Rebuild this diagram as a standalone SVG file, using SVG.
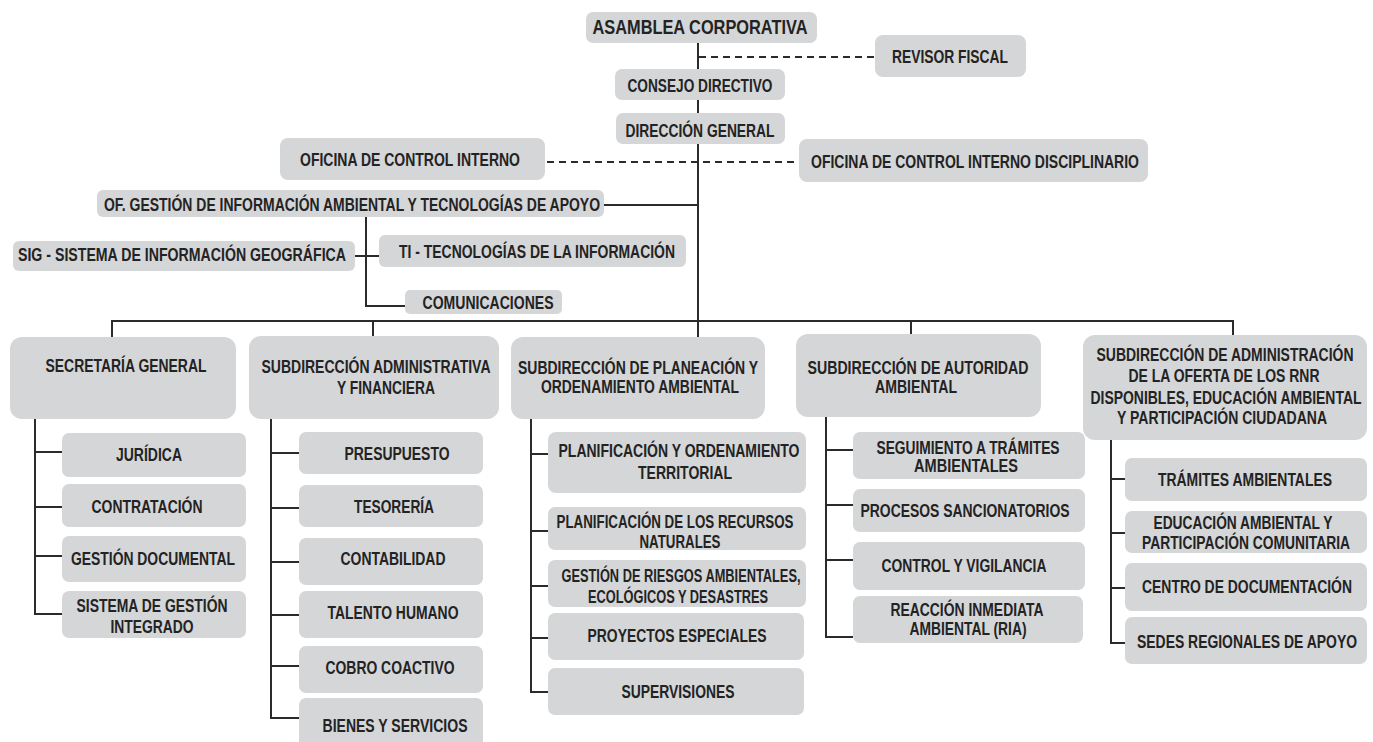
<svg xmlns="http://www.w3.org/2000/svg" width="1373" height="742" viewBox="0 0 1373 742">
<style>
.bx{fill:#d5d6d8;}
.t{font-family:"Liberation Sans Narrow","Liberation Sans",Arial,sans-serif;font-weight:bold;font-size:18px;fill:#232323;text-anchor:middle;}
.big{font-size:19.5px;}
.ln{stroke:#2b2b2b;stroke-width:2;fill:none;}
.dash{stroke:#2b2b2b;stroke-width:1.8;fill:none;stroke-dasharray:7 5;}
</style>
<rect width="1373" height="742" fill="#ffffff"/>
<g id="connectors">
<path class="ln" d="M698 43 V337"/>
<path class="dash" d="M699 57 H875"/>
<path class="dash" d="M547 162 H799"/>
<path class="ln" d="M604 205 H698"/>
<path class="ln" d="M366 217 V306 H405"/>
<path class="ln" d="M355 256 H379"/>
<path class="ln" d="M112 321 H1233"/>
<path class="ln" d="M112 320 V337"/>
<path class="ln" d="M373 320 V336"/>
<path class="ln" d="M911 320 V334"/>
<path class="ln" d="M1233 320 V335"/>
<path class="ln" d="M35 419 V614 H62 M35 452 H62 M35 507 H62 M35 556 H62"/>
<path class="ln" d="M271 419 V718 H299 M271 453 H299 M271 508 H299 M271 562 H299 M271 615 H299 M271 666 H299"/>
<path class="ln" d="M531 419 V692 H548 M531 454 H548 M531 531 H548 M531 586 H548 M531 638 H548"/>
<path class="ln" d="M826 417 V637 H853 M826 450 H853 M826 505 H853 M826 560 H853"/>
<path class="ln" d="M1111 440 V643 H1125 M1111 479 H1125 M1111 533 H1125 M1111 588 H1125"/>
</g>
<g id="asamblea"><rect class="bx" x="586" y="12" width="231" height="31" rx="7"/><text class="t big" x="700" y="34" textLength="215" lengthAdjust="spacingAndGlyphs">ASAMBLEA CORPORATIVA</text></g>
<g id="revisor"><rect class="bx" x="875" y="35" width="151" height="42" rx="8"/><text class="t" x="950" y="63" textLength="116" lengthAdjust="spacingAndGlyphs">REVISOR FISCAL</text></g>
<g id="consejo"><rect class="bx" x="615" y="69" width="170" height="31" rx="7"/><text class="t" x="700" y="92" textLength="145" lengthAdjust="spacingAndGlyphs">CONSEJO DIRECTIVO</text></g>
<g id="direccion"><rect class="bx" x="616" y="113" width="169" height="31" rx="7"/><text class="t" x="700" y="137" textLength="149" lengthAdjust="spacingAndGlyphs">DIRECCIÓN GENERAL</text></g>
<g id="control-interno"><rect class="bx" x="280" y="138" width="265" height="42" rx="8"/><text class="t" x="410" y="166" textLength="220" lengthAdjust="spacingAndGlyphs">OFICINA DE CONTROL INTERNO</text></g>
<g id="control-disciplinario"><rect class="bx" x="799" y="139" width="349" height="43" rx="8"/><text class="t" x="975" y="168" textLength="328" lengthAdjust="spacingAndGlyphs">OFICINA DE CONTROL INTERNO DISCIPLINARIO</text></g>
<g id="of-gestion"><rect class="bx" x="97" y="190" width="507" height="27" rx="6"/><text class="t" x="352" y="211" textLength="496" lengthAdjust="spacingAndGlyphs">OF. GESTIÓN DE INFORMACIÓN AMBIENTAL Y TECNOLOGÍAS DE APOYO</text></g>
<g id="sig"><rect class="bx" x="13" y="241" width="342" height="30" rx="6"/><text class="t" x="182" y="261" textLength="328" lengthAdjust="spacingAndGlyphs">SIG - SISTEMA DE INFORMACIÓN  GEOGRÁFICA</text></g>
<g id="ti"><rect class="bx" x="379" y="235" width="307" height="32" rx="6"/><text class="t" x="537" y="258" textLength="276" lengthAdjust="spacingAndGlyphs">TI - TECNOLOGÍAS DE LA INFORMACIÓN</text></g>
<g id="comunicaciones"><rect class="bx" x="405" y="290" width="157" height="24" rx="5"/><text class="t" x="488" y="309" textLength="131" lengthAdjust="spacingAndGlyphs">COMUNICACIONES</text></g>

<g id="secretaria"><rect class="bx" x="10" y="337" width="226" height="82" rx="12"/><text class="t" x="126" y="372" textLength="161" lengthAdjust="spacingAndGlyphs">SECRETARÍA GENERAL</text></g>
<g id="sub-admin"><rect class="bx" x="249" y="336" width="250" height="83" rx="12"/><text class="t" x="376" y="373" textLength="229" lengthAdjust="spacingAndGlyphs">SUBDIRECCIÓN ADMINISTRATIVA</text><text class="t" x="386" y="394" textLength="98" lengthAdjust="spacingAndGlyphs">Y FINANCIERA</text></g>
<g id="sub-planeacion"><rect class="bx" x="511" y="337" width="254" height="82" rx="12"/><text class="t" x="638" y="374" textLength="240" lengthAdjust="spacingAndGlyphs">SUBDIRECCIÓN DE PLANEACIÓN Y</text><text class="t" x="640" y="393" textLength="198" lengthAdjust="spacingAndGlyphs">ORDENAMIENTO AMBIENTAL</text></g>
<g id="sub-autoridad"><rect class="bx" x="796" y="334" width="245" height="83" rx="12"/><text class="t" x="918" y="374" textLength="221" lengthAdjust="spacingAndGlyphs">SUBDIRECCIÓN DE AUTORIDAD</text><text class="t" x="916" y="393" textLength="82" lengthAdjust="spacingAndGlyphs">AMBIENTAL</text></g>
<g id="sub-rnr"><rect class="bx" x="1083" y="335" width="284" height="105" rx="12"/><text class="t" x="1225" y="361" textLength="257" lengthAdjust="spacingAndGlyphs">SUBDIRECCIÓN DE ADMINISTRACIÓN</text><text class="t" x="1224" y="382" textLength="191" lengthAdjust="spacingAndGlyphs">DE LA OFERTA DE LOS RNR</text><text class="t" x="1226" y="404" textLength="271" lengthAdjust="spacingAndGlyphs">DISPONIBLES, EDUCACIÓN AMBIENTAL</text><text class="t" x="1222" y="424" textLength="210" lengthAdjust="spacingAndGlyphs">Y PARTICIPACIÓN CIUDADANA</text></g>

<g id="juridica"><rect class="bx" x="62" y="433" width="184" height="44" rx="7"/><text class="t" x="149" y="461" textLength="66" lengthAdjust="spacingAndGlyphs">JURÍDICA</text></g>
<g id="contratacion"><rect class="bx" x="62" y="484" width="184" height="43" rx="7"/><text class="t" x="147" y="513" textLength="111" lengthAdjust="spacingAndGlyphs">CONTRATACIÓN</text></g>
<g id="gestion-documental"><rect class="bx" x="62" y="536" width="184" height="46" rx="7"/><text class="t" x="153" y="565" textLength="164" lengthAdjust="spacingAndGlyphs">GESTIÓN DOCUMENTAL</text></g>
<g id="sgi"><rect class="bx" x="62" y="591" width="184" height="47" rx="7"/><text class="t" x="152" y="612" textLength="151" lengthAdjust="spacingAndGlyphs">SISTEMA DE GESTIÓN</text><text class="t" x="152" y="633" textLength="83" lengthAdjust="spacingAndGlyphs">INTEGRADO</text></g>

<g id="presupuesto"><rect class="bx" x="299" y="432" width="184" height="42" rx="7"/><text class="t" x="397" y="460" textLength="105" lengthAdjust="spacingAndGlyphs">PRESUPUESTO</text></g>
<g id="tesoreria"><rect class="bx" x="299" y="485" width="184" height="42" rx="7"/><text class="t" x="394" y="513" textLength="80" lengthAdjust="spacingAndGlyphs">TESORERÍA</text></g>
<g id="contabilidad"><rect class="bx" x="299" y="538" width="184" height="47" rx="7"/><text class="t" x="393" y="565" textLength="105" lengthAdjust="spacingAndGlyphs">CONTABILIDAD</text></g>
<g id="talento"><rect class="bx" x="299" y="591" width="184" height="47" rx="7"/><text class="t" x="393" y="619" textLength="131" lengthAdjust="spacingAndGlyphs">TALENTO HUMANO</text></g>
<g id="cobro"><rect class="bx" x="299" y="646" width="184" height="47" rx="7"/><text class="t" x="390" y="674" textLength="129" lengthAdjust="spacingAndGlyphs">COBRO COACTIVO</text></g>
<g id="bienes"><rect class="bx" x="299" y="698" width="184" height="50" rx="7"/><text class="t" x="395" y="732" textLength="145" lengthAdjust="spacingAndGlyphs">BIENES Y SERVICIOS</text></g>

<g id="plan-territorial"><rect class="bx" x="548" y="432" width="258" height="61" rx="8"/><text class="t" x="679" y="457" textLength="241" lengthAdjust="spacingAndGlyphs">PLANIFICACIÓN Y ORDENAMIENTO</text><text class="t" x="685" y="479" textLength="94" lengthAdjust="spacingAndGlyphs">TERRITORIAL</text></g>
<g id="plan-recursos"><rect class="bx" x="548" y="507" width="258" height="43" rx="7"/><text class="t" x="675" y="528" textLength="237" lengthAdjust="spacingAndGlyphs">PLANIFICACIÓN DE LOS RECURSOS</text><text class="t" x="680" y="548" textLength="81" lengthAdjust="spacingAndGlyphs">NATURALES</text></g>
<g id="riesgos"><rect class="bx" x="548" y="560" width="258" height="47" rx="7"/><text class="t" x="681" y="582" textLength="239" lengthAdjust="spacingAndGlyphs">GESTIÓN DE RIESGOS AMBIENTALES,</text><text class="t" x="678" y="603" textLength="180" lengthAdjust="spacingAndGlyphs">ECOLÓGICOS Y DESASTRES</text></g>
<g id="proyectos"><rect class="bx" x="548" y="613" width="256" height="47" rx="7"/><text class="t" x="677" y="642" textLength="179" lengthAdjust="spacingAndGlyphs">PROYECTOS ESPECIALES</text></g>
<g id="supervisiones"><rect class="bx" x="548" y="668" width="256" height="47" rx="7"/><text class="t" x="678" y="698" textLength="113" lengthAdjust="spacingAndGlyphs">SUPERVISIONES</text></g>

<g id="seguimiento"><rect class="bx" x="853" y="432" width="232" height="47" rx="7"/><text class="t" x="968" y="454" textLength="183" lengthAdjust="spacingAndGlyphs">SEGUIMIENTO A TRÁMITES</text><text class="t" x="966" y="472" textLength="104" lengthAdjust="spacingAndGlyphs">AMBIENTALES</text></g>
<g id="sancionatorios"><rect class="bx" x="853" y="489" width="232" height="43" rx="7"/><text class="t" x="965" y="517" textLength="209" lengthAdjust="spacingAndGlyphs">PROCESOS SANCIONATORIOS</text></g>
<g id="control-vigilancia"><rect class="bx" x="853" y="542" width="232" height="48" rx="7"/><text class="t" x="964" y="572" textLength="165" lengthAdjust="spacingAndGlyphs">CONTROL Y VIGILANCIA</text></g>
<g id="ria"><rect class="bx" x="853" y="596" width="230" height="47" rx="7"/><text class="t" x="967" y="616" textLength="153" lengthAdjust="spacingAndGlyphs">REACCIÓN INMEDIATA</text><text class="t" x="968" y="635" textLength="117" lengthAdjust="spacingAndGlyphs">AMBIENTAL (RIA)</text></g>

<g id="tramites"><rect class="bx" x="1125" y="458" width="242" height="43" rx="7"/><text class="t" x="1245" y="486" textLength="174" lengthAdjust="spacingAndGlyphs">TRÁMITES AMBIENTALES</text></g>
<g id="educacion"><rect class="bx" x="1125" y="511" width="242" height="42" rx="7"/><text class="t" x="1243" y="529" textLength="179" lengthAdjust="spacingAndGlyphs">EDUCACIÓN AMBIENTAL Y</text><text class="t" x="1246" y="549" textLength="208" lengthAdjust="spacingAndGlyphs">PARTICIPACIÓN COMUNITARIA</text></g>
<g id="centro-doc"><rect class="bx" x="1125" y="563" width="242" height="48" rx="7"/><text class="t" x="1247" y="593" textLength="210" lengthAdjust="spacingAndGlyphs">CENTRO DE DOCUMENTACIÓN</text></g>
<g id="sedes"><rect class="bx" x="1125" y="617" width="242" height="47" rx="7"/><text class="t" x="1247" y="648" textLength="220" lengthAdjust="spacingAndGlyphs">SEDES REGIONALES DE APOYO</text></g>
</svg>
